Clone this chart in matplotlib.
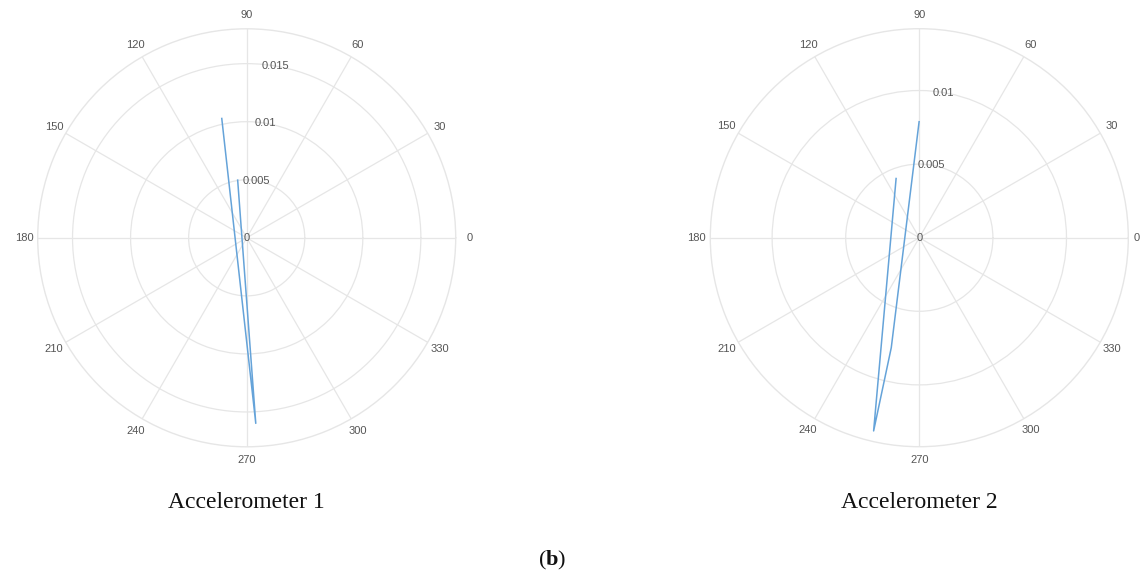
import numpy as np
import matplotlib
matplotlib.use('Agg')
import matplotlib.pyplot as plt

plt.rcParams['mathtext.fontset'] = 'custom'
plt.rcParams['mathtext.rm'] = 'Liberation Serif'
plt.rcParams['mathtext.bf'] = 'Liberation Serif:bold'

# orbit traces (angle in degrees, amplitude)
acc1_theta = [101.8, 272.8, 98.9]
acc1_r = [0.0105, 0.0160, 0.00503]
acc2_theta = [111.4, 256.7, 255.7, 90.1]
acc2_r = [0.00432, 0.01349, 0.00771, 0.00788]

acc1_rticks = [0.005, 0.01, 0.015]
acc1_rlabels = ['0.005', '0.01', '0.015']
acc2_rticks = [0.005, 0.01]
acc2_rlabels = ['0.005', '0.01']
angle_ticks = list(range(0, 360, 30))

titles = ['Accelerometer 1', 'Accelerometer 2']
rmax = [0.018, 0.0142]

grid_col = '#e6e6e6'
text_col = '#555555'
line_col = '#65a3d9'

fig = plt.figure(figsize=(11.42, 5.78), dpi=100)
W, H = 1142, 578

def polar_panel(cx, cy, rad, theta, r, rticks, rlabels, rm, title, edge_shrink=1.0):
    ax = fig.add_axes([(cx - rad) / W, (H - cy - rad) / H, 2 * rad / W, 2 * rad / H],
                      projection='polar')
    ax.set_ylim(0, rm)
    ax.set_xticks(np.deg2rad(angle_ticks))
    ax.set_xticklabels([])
    ax.set_yticks(rticks)
    ax.set_yticklabels([])
    ax.grid(True, color=grid_col, linewidth=0.9)
    ax.spines['polar'].set_color(grid_col)
    ax.spines['polar'].set_linewidth(1.0)
    ax.tick_params(length=0)

    line, = ax.plot(np.deg2rad(theta), r, color=line_col, linewidth=1.1)
    line.get_path()._interpolation_steps = 1

    for a in angle_ticks:
        f = 1.065 if a != 0 else 1.065 * edge_shrink
        ax.text(np.deg2rad(a), rm * f, str(a), ha='center', va='center',
                fontsize=8, color=text_col, family='Liberation Sans')
    ax.text(0, 0, '0', ha='center', va='center', fontsize=8, color=text_col,
            family='Liberation Sans')
    for t, lab in zip(rticks, rlabels):
        ax.text(np.deg2rad(80.5), t, lab, ha='center', va='center', fontsize=8,
                color=text_col, family='Liberation Sans')

    fig.text(cx / W, 1 - 503 / H, title, ha='center', va='center', fontsize=17,
             family='Liberation Serif', color='#111111')
    return ax

polar_panel(246.7, 237.8, 209, acc1_theta, acc1_r, acc1_rticks, acc1_rlabels,
            rmax[0], titles[0])
polar_panel(919.3, 237.7, 209, acc2_theta, acc2_r, acc2_rticks, acc2_rlabels,
            rmax[1], titles[1], edge_shrink=0.975)

fig.text(551.7 / W, 1 - 560 / H, r'($\mathbf{b}$)', ha='center', va='center',
         fontsize=16, family='Liberation Serif', color='#111111')

fig.savefig('out.png', dpi=100, facecolor='white')
